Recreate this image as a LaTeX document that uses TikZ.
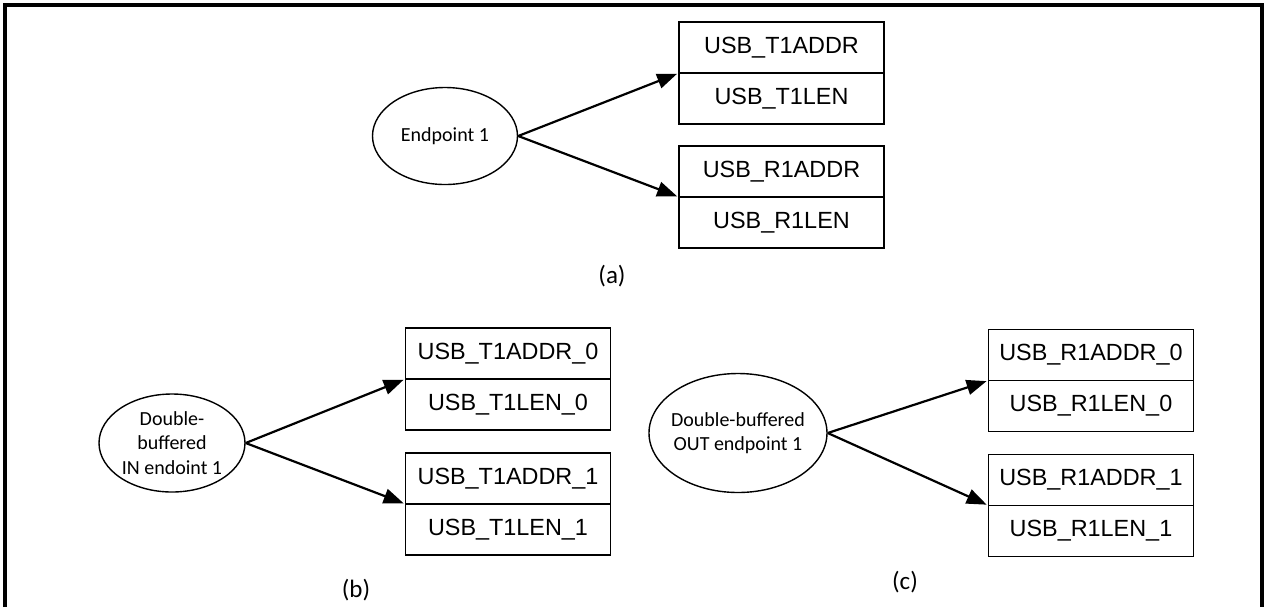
\documentclass[tikz,border=0pt]{standalone}
\usepackage{fontspec}
\setmainfont{Carlito}
\newfontfamily\regfont{Liberation Sans}
\usetikzlibrary{arrows.meta,positioning,shapes.geometric}

\begin{document}
\begin{tikzpicture}[x=0.5pt,y=-0.5pt,
    reg/.style={draw,line width=0.9pt,minimum width=102.5pt,minimum height=25.5pt,inner sep=0pt,outer sep=0pt,font=\regfont\fontsize{11.7}{14}\selectfont},
    ept/.style={draw,ellipse,line width=0.7pt,inner sep=0pt,align=center,font=\fontsize{10}{12.3}\selectfont},
    arr/.style={-{Triangle[length=10pt,width=7.5pt]},line width=1.1pt,shorten >=1pt},
    sublabel/.style={font=\fontsize{12.5}{15}\selectfont}]
    \useasboundingbox (0,0) rectangle (1266,607);
    \draw[line width=1.6pt] (5,607) -- (5,5) -- (1262,5) -- (1262,607);

    \node[ept,minimum width=72.5pt,minimum height=48.5pt] (ep) at (445,136) {Endpoint 1};
    \node[reg] (t1addr) at (781.5,47.5) {USB\_T1ADDR};
    \node[reg,below=0pt of t1addr] (t1len) {USB\_T1LEN};
    \node[reg] (r1addr) at (781.5,171.5) {USB\_R1ADDR};
    \node[reg,below=0pt of r1addr] (r1len) {USB\_R1LEN};
    \node[sublabel] (la) at (612,276) {(a)};

    \draw[arr] (ep.east) to (t1addr.south west);
    \draw[arr] (ep.east) to (r1addr.south west);

    \node[ept,minimum width=73pt,minimum height=49pt] (epin) at (172,443) {Double-\\buffered\\IN endoint 1};
    \node[reg] (t1addrz) at (508,353.5) {USB\_T1ADDR\_0};
    \node[reg,below=0pt of t1addrz] (t1lenz) {USB\_T1LEN\_0};
    \node[reg] (t1addro) at (508,478.5) {USB\_T1ADDR\_1};
    \node[reg,below=0pt of t1addro] (t1leno) {USB\_T1LEN\_1};
    \node[sublabel] (lb) at (356,590) {(b)};

    \draw[arr] (epin.east) to (t1addrz.south west);
    \draw[arr] (epin.east) to (t1addro.south west);

    \node[ept,inner xsep=-4pt,minimum width=89pt,minimum height=59.5pt] (epout) at (738,433) {Double-buffered\\OUT endpoint 1};
    \node[reg] (r1addrz) at (1091,355) {USB\_R1ADDR\_0};
    \node[reg,below=0pt of r1addrz] (r1lenz) {USB\_R1LEN\_0};
    \node[reg] (r1addro) at (1091,480) {USB\_R1ADDR\_1};
    \node[reg,below=0pt of r1addro] (r1leno) {USB\_R1LEN\_1};
    \node[sublabel] (lc) at (905,582) {(c)};

    \draw[arr] (epout.east) to (r1addrz.south west);
    \draw[arr] (epout.east) to (r1addro.south west);
\end{tikzpicture}
\end{document}
